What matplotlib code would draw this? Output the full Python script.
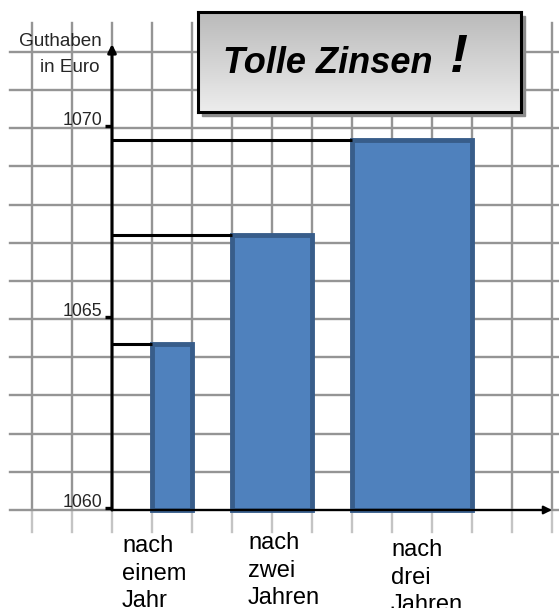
import numpy as np
import matplotlib
matplotlib.use('Agg')
import matplotlib.pyplot as plt
from matplotlib.patches import Rectangle
from matplotlib.colors import LinearSegmentedColormap

plt.rcParams['font.family'] = ['Liberation Sans', 'DejaVu Sans']

# Daten
kategorien = ['nach\neinem\nJahr', 'nach\nzwei\nJahren', 'nach\ndrei\nJahren']
balken_start = [1, 3, 6]     # Kästchen rechts der Achse
jahre = [1, 2, 3]            # Balkenbreite = Anzahl Jahre
guthaben = [1064.35, 1067.2, 1069.7]
basis = 1060
y_ticks = [1060, 1065, 1070]

W, H = 559, 608
PX_X = 40.0     # Pixel pro Kästchen (x)
PX_Y = 38.17    # Pixel pro Euro (y)


def fx(px):
    return px / W


def fy(py):
    return 1 - py / H


fig = plt.figure(figsize=(W / 100, H / 100), dpi=100)
ax = fig.add_axes([0, 0, 1, 1])
ax.set_xlim(-112 / PX_X, (W - 112) / PX_X)
ax.set_ylim(basis - (H - 510) / PX_Y, basis + 510 / PX_Y)
ax.axis('off')

# Kästchenraster
y_oben = basis + (510 - 23) / PX_Y
y_unten = basis - 22 / PX_Y
for x in range(-2, 12):
    ax.plot([x, x], [basis, y_oben], color='#959595', lw=1.7, zorder=1)
    ax.plot([x, x], [y_unten, basis], color='#c4c4c4', lw=1.7, zorder=1)
for y in range(basis, basis + 13):
    ax.plot([-2.55, 11.3], [y, y], color='#959595', lw=1.7, zorder=1)

# Balken
hoehe = [g - basis for g in guthaben]
ax.bar(balken_start, hoehe, width=jahre, bottom=basis, align='edge',
       color='#4F81BD', edgecolor='#385D8A', linewidth=3.5, zorder=3)

# Hilfslinien zur Achse
for x0, g in zip(balken_start, guthaben):
    ax.plot([0, x0], [g, g], color='black', lw=2.2, zorder=4,
            solid_capstyle='butt')

# Achsen mit Pfeilen
ax.annotate('', xy=(0, basis + (510 - 44) / PX_Y), xytext=(0, basis),
            arrowprops=dict(arrowstyle='-|>', color='black', lw=2.2,
                            mutation_scale=12, shrinkA=0, shrinkB=0),
            zorder=5)
ax.annotate('', xy=(11, basis), xytext=(0, basis),
            arrowprops=dict(arrowstyle='-|>', color='black', lw=1.6,
                            mutation_scale=12, shrinkA=0, shrinkB=0),
            zorder=5)

# y-Ticks
for t in y_ticks:
    ax.plot([-0.18, 0], [t + 0.05, t + 0.05], color='black', lw=2.4, zorder=5,
            solid_capstyle='butt')
    ax.text(-0.25, t + 0.08, str(t), ha='right', va='baseline',
            fontsize=12.8, color='#262626')

ax.text(-0.25, basis + (510 - 46) / PX_Y, 'Guthaben', ha='right',
        va='baseline', fontsize=13.6, color='#262626')
ax.text(-0.32, basis + (510 - 71.7) / PX_Y, 'in Euro', ha='right',
        va='baseline', fontsize=13.6, color='#262626')

# Kategorien (y = Grundlinie der letzten Zeile)
label_x = [0.25, 3.4, 6.975]
label_y = [basis - 97 / PX_Y, basis - 94 / PX_Y, basis - 101 / PX_Y]
for lx, ly, k in zip(label_x, label_y, kategorien):
    ax.text(lx, ly, k, ha='left', va='baseline', fontsize=17,
            linespacing=1.32, color='black')

# Titelkasten mit Schatten und Verlauf
schatten = Rectangle((fx(202), fy(116)), fx(323), 100 / H,
                     transform=fig.transFigure, color='#8c8c8c', zorder=5)
fig.patches.append(schatten)

tax = fig.add_axes([fx(198), fy(112), fx(323), 100 / H], zorder=10)
verlauf = np.linspace(0, 1, 256).reshape(-1, 1)
cmap = LinearSegmentedColormap.from_list('grau', ['#bababa', '#ededed'])
tax.imshow(verlauf, cmap=cmap, aspect='auto', extent=[0, 1, 0, 1],
           origin='upper')
tax.set_xticks([])
tax.set_yticks([])
for s in tax.spines.values():
    s.set_linewidth(2.2)
    s.set_color('black')

tax.text(fx(223), fy(73), 'Tolle Zinsen', transform=fig.transFigure,
         fontsize=26, fontweight='bold', fontstyle='italic',
         ha='left', va='baseline', color='black')
tax.text(fx(459), fy(72), '!', transform=fig.transFigure,
         fontsize=39, fontweight='bold', fontstyle='italic',
         ha='center', va='baseline', color='black')

plt.savefig('out.png', dpi=100)
plt.close()
